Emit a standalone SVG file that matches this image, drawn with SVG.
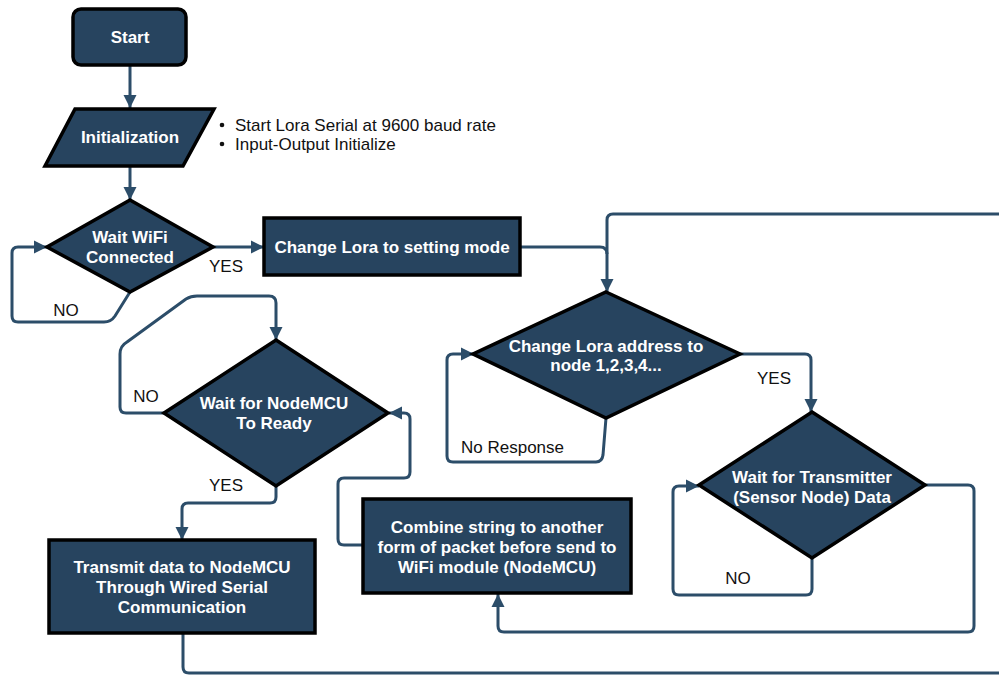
<svg xmlns="http://www.w3.org/2000/svg" width="999" height="677" viewBox="0 0 999 677">
<defs>
<marker id="arr" markerUnits="userSpaceOnUse" markerWidth="14" markerHeight="14" refX="13" refY="7" orient="auto">
<path d="M0,0.5 L13,7 L0,13.5 z" fill="#2c4d69"/>
</marker>
<style>
.node{fill:#27445f;stroke:#000;stroke-width:3.5;stroke-linejoin:miter}
.nt{font-family:"Liberation Sans",Arial,sans-serif;font-weight:bold;font-size:17px;fill:#fff;text-anchor:middle}
.lb{font-family:"Liberation Sans",Arial,sans-serif;font-size:17px;fill:#111}
.c{fill:none;stroke:#2c4d69;stroke-width:3;stroke-linejoin:round}
.ca{fill:none;stroke:#2c4d69;stroke-width:3;stroke-linejoin:round;marker-end:url(#arr)}
</style>
</defs>
<rect width="999" height="677" fill="#fff"/>

<g id="connectors">
<path class="ca" d="M130,65 V108"/>
<path class="ca" d="M130,166 V200"/>
<path class="ca" d="M213,247 H264"/>
<path class="ca" d="M130,292 L115,316 Q111,322 104,322 H18 Q12,322 12,316 V253 Q12,247 18,247 H47"/>
<path class="ca" d="M999,214 H613 Q607,214 607,220 V292"/>
<path class="c" d="M520,247 H600 Q607,247 607,254"/>
<path class="ca" d="M740,354 H805 Q811,354 811,360 V412"/>
<path class="ca" d="M606,418 L603,455 Q602,462 596,462 H453 Q447,462 447,456 V360 Q447,354 453,354 H474"/>
<path class="ca" d="M812,558 V589 Q812,595 806,595 H679 Q673,595 673,589 V492 Q673,486 679,486 H699"/>
<path class="ca" d="M925,485 H968 Q974,485 974,491 V626 Q974,632 968,632 H504 Q498,632 498,626 V594"/>
<path class="ca" d="M363,545 H344 Q338,545 338,539 V484 Q338,478 344,478 H404 Q410,478 410,472 V419 Q410,413 404,413 H389"/>
<path class="ca" d="M164,413 H126 Q120,413 120,407 V354 Q120,346 127,342 L186,299 Q191,296 197,296 H269 Q276,296 276,303 V340"/>
<path class="ca" d="M276,486 V497 Q276,503 270,503 H188 Q182,503 182,509 V540"/>
<path class="c" d="M183,633 V667 Q183,673 189,673 H999"/>
</g>

<g id="start">
<rect class="node" x="73" y="9" width="113" height="56" rx="8"/>
<text class="nt" x="130" y="43">Start</text>
</g>

<g id="init">
<polygon class="node" points="75,109 214,109 183,166 45,166"/>
<text class="nt" x="130" y="143">Initialization</text>
</g>

<g id="init-notes">
<circle cx="222" cy="125" r="2.3" fill="#111"/>
<circle cx="222" cy="144" r="2.3" fill="#111"/>
<text class="lb" x="235" y="131">Start Lora Serial at 9600 baud rate</text>
<text class="lb" x="235" y="150">Input-Output Initialize</text>
</g>

<g id="wifi">
<polygon class="node" points="130,200 213,247 130,292 47,247"/>
<text class="nt" x="130" y="243">Wait WiFi</text>
<text class="nt" x="130" y="263">Connected</text>
</g>

<g id="setting">
<rect class="node" x="264" y="218" width="256" height="57"/>
<text class="nt" x="392" y="253">Change Lora to setting mode</text>
</g>

<g id="address">
<polygon class="node" points="606,292 740,354 606,418 473,354"/>
<text class="nt" x="606" y="352">Change Lora address to</text>
<text class="nt" x="606" y="371">node 1,2,3,4...</text>
</g>

<g id="transmitter">
<polygon class="node" points="812,412 925,485 812,558 699,485"/>
<text class="nt" x="812" y="483">Wait for Transmitter</text>
<text class="nt" x="812" y="503">(Sensor Node) Data</text>
</g>

<g id="nodemcu">
<polygon class="node" points="276,340 388,413 276,486 164,413"/>
<text class="nt" x="274" y="409">Wait for NodeMCU</text>
<text class="nt" x="274" y="429">To Ready</text>
</g>

<g id="transmit">
<rect class="node" x="49" y="540" width="266" height="93"/>
<text class="nt" x="182" y="573">Transmit data to NodeMCU</text>
<text class="nt" x="182" y="593">Through Wired Serial</text>
<text class="nt" x="182" y="613">Communication</text>
</g>

<g id="combine">
<rect class="node" x="363" y="499" width="268" height="94"/>
<text class="nt" x="497" y="533">Combine string to another</text>
<text class="nt" x="497" y="553">form of packet before send to</text>
<text class="nt" x="497" y="573">WiFi module (NodeMCU)</text>
</g>

<g id="labels">
<text class="lb" x="226" y="272" text-anchor="middle">YES</text>
<text class="lb" x="66" y="316" text-anchor="middle">NO</text>
<text class="lb" x="146" y="402" text-anchor="middle">NO</text>
<text class="lb" x="226" y="491" text-anchor="middle">YES</text>
<text class="lb" x="774" y="384" text-anchor="middle">YES</text>
<text class="lb" x="461" y="453">No Response</text>
<text class="lb" x="738" y="584" text-anchor="middle">NO</text>
</g>
</svg>
